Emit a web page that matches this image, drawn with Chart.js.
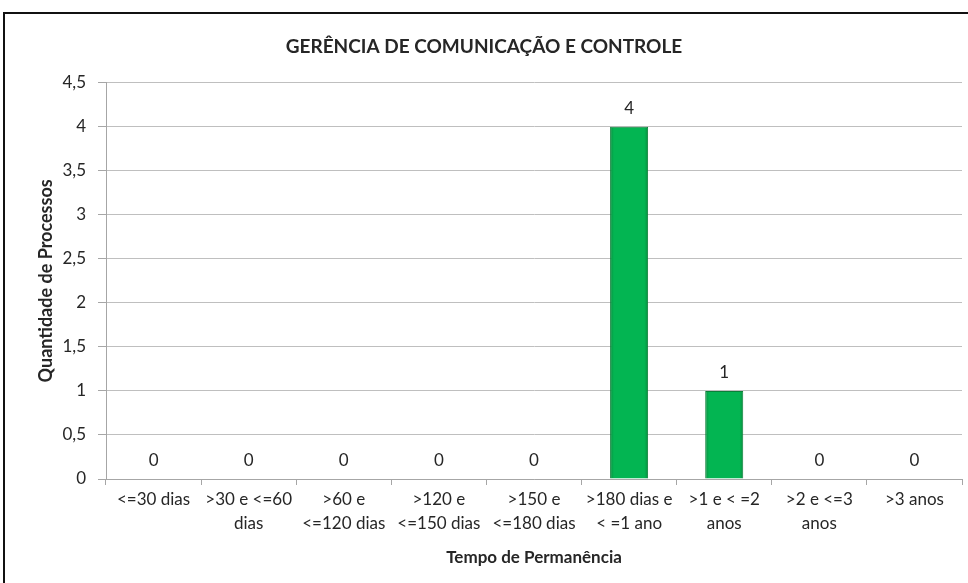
<!DOCTYPE html>
<html>
<head>
<meta charset="utf-8">
<script src="https://cdn.jsdelivr.net/npm/chart.js@4/dist/chart.umd.min.js"></script>
<style>
    html, body { margin: 0; padding: 0; background: #fff; overflow: hidden; }
    #wrap { position: relative; width: 968px; height: 583px; }
    #frame { position: absolute; left: 3px; top: 12px; width: 1000px; height: 700px; border: 2px solid #111; box-sizing: border-box; }
    canvas { position: absolute; left: 0; top: 0; }
</style>
</head>
<body>
<div id="wrap">
    <div id="frame"></div>
    <canvas id="tempoChart" width="968" height="583"></canvas>
</div>
<script>
// Chart data
const categories = [
    '<=30 dias',
    ['>30 e <=60', 'dias'],
    ['>60 e', '<=120 dias'],
    ['>120 e', '<=150 dias'],
    ['>150 e', '<=180 dias'],
    ['>180 dias e', '< =1 ano'],
    ['>1 e < =2', 'anos'],
    ['>2 e <=3', 'anos'],
    '>3 anos'
];
const processos = [0, 0, 0, 0, 0, 4, 1, 0, 0];

const chartTitle = 'GERÊNCIA DE COMUNICAÇÃO E CONTROLE';
const xTitle = 'Tempo de Permanência';
const yTitle = 'Quantidade de Processos';

const fontFamily = 'Lato, "Open Sans", sans-serif';
const textColor = '#262626';

// Value labels above each bar
const valueLabels = {
    id: 'valueLabels',
    afterDatasetsDraw(chart) {
        const ctx = chart.ctx;
        const meta = chart.getDatasetMeta(0);
        ctx.save();
        ctx.font = '17px ' + fontFamily;
        ctx.fillStyle = textColor;
        ctx.textAlign = 'center';
        ctx.textBaseline = 'middle';
        meta.data.forEach((bar, i) => {
            ctx.fillText(String(processos[i]), bar.x, bar.y - 18);
        });
        ctx.restore();
    }
};

function barFill(context) {
    const chart = context.chart;
    if (!chart.chartArea) {
        return '#00b050';
    }
    const x = chart.scales.x.getPixelForValue(context.dataIndex);
    const half = 19;
    const g = chart.ctx.createLinearGradient(x - half, 0, x + half, 0);
    g.addColorStop(0, '#088f3e');
    g.addColorStop(0.1, '#03b552');
    g.addColorStop(0.9, '#03b552');
    g.addColorStop(1, '#088f3e');
    return g;
}

const ctx = document.getElementById('tempoChart').getContext('2d');

new Chart(ctx, {
    type: 'bar',
    data: {
        labels: categories,
        datasets: [{
            data: processos,
            backgroundColor: barFill,
            borderColor: '#0a7f38',
            borderWidth: c => (processos[c.dataIndex] > 0 ? 1 : 0),
            borderSkipped: 'bottom',
            barPercentage: 0.4,
            categoryPercentage: 1
        }]
    },
    options: {
        responsive: false,
        animation: false,
        layout: {
            padding: { left: 6, right: 6, top: 0, bottom: 15 }
        },
        scales: {
            y: {
                min: 0,
                max: 4.5,
                ticks: {
                    stepSize: 0.5,
                    color: textColor,
                    font: { family: fontFamily, size: 17 },
                    padding: 12,
                    callback: v => String(v).replace('.', ',')
                },
                grid: {
                    color: '#bfbfbf',
                    tickColor: '#a6a6a6',
                    tickLength: 8
                },
                border: { color: '#a6a6a6' },
                title: {
                    display: true,
                    text: yTitle,
                    color: textColor,
                    font: { family: fontFamily, size: 18, weight: 'bold' },
                    padding: { top: 29, bottom: 0 }
                },
                afterFit: scale => { scale.width = 100; }
            },
            x: {
                ticks: {
                    color: textColor,
                    font: { family: fontFamily, size: 17, lineHeight: 1.4 },
                    maxRotation: 0,
                    autoSkip: false,
                    padding: 3
                },
                grid: {
                    drawOnChartArea: false,
                    color: '#a6a6a6',
                    tickLength: 6
                },
                border: { color: '#a6a6a6' },
                title: {
                    display: true,
                    text: xTitle,
                    color: textColor,
                    font: { family: fontFamily, size: 17, weight: 'bold' },
                    padding: { top: 0, bottom: 0 }
                },
                afterFit: scale => { scale.height = 89; }
            }
        },
        plugins: {
            legend: { display: false },
            tooltip: { enabled: false },
            title: {
                display: true,
                text: chartTitle,
                color: textColor,
                font: { family: fontFamily, size: 19, weight: 'bold' },
                padding: { top: 35, bottom: 25 }
            }
        }
    },
    plugins: [valueLabels]
});
</script>
</body>
</html>
